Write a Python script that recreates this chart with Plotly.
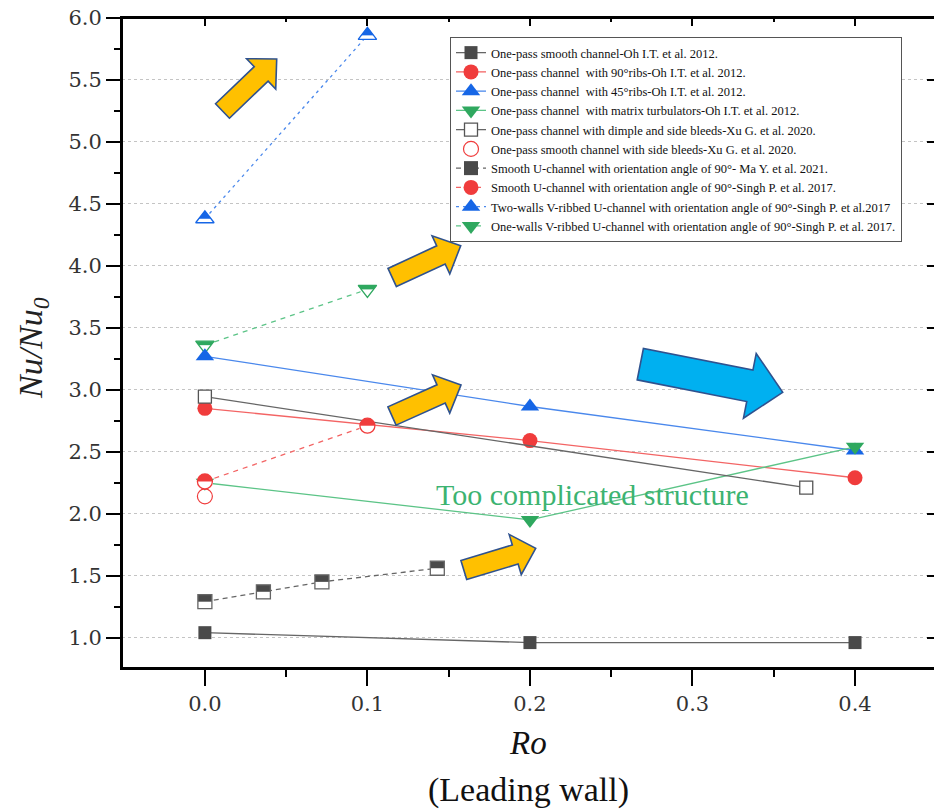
import math
import plotly.graph_objects as go

# ---------------- data ----------------
ro_oh = [0.0, 0.2, 0.4]
nu_oh_smooth = [1.04, 0.96, 0.96]
nu_oh_ribs90 = [2.85, 2.59, 2.29]
nu_oh_ribs45 = [3.27, 2.865, 2.51]
nu_oh_matrix = [2.25, 1.95, 2.54]

ro_xu_dimple = [0.0, 0.37]
nu_xu_dimple = [2.945, 2.21]
ro_xu_smooth = [0.0]
nu_xu_smooth = [2.14]

ro_ma = [0.0, 0.036, 0.072, 0.143]
nu_ma = [1.29, 1.37, 1.45, 1.56]

ro_singh = [0.0, 0.1]
nu_singh_smooth = [2.26, 2.71]
nu_singh_two_walls = [4.38, 5.86]
nu_singh_one_wall = [3.36, 3.81]

series_names = [
    "One-pass smooth channel-Oh I.T. et al. 2012.",
    "One-pass channel  with 90°ribs-Oh I.T. et al. 2012.",
    "One-pass channel  with 45°ribs-Oh I.T. et al. 2012.",
    "One-pass channel  with matrix turbulators-Oh I.T. et al. 2012.",
    "One-pass channel with dimple and side bleeds-Xu G. et al. 2020.",
    "One-pass smooth channel with side bleeds-Xu G. et al. 2020.",
    "Smooth U-channel with orientation angle of 90°- Ma Y. et al. 2021.",
    "Smooth U-channel with orientation angle of 90°-Singh P. et al. 2017.",
    "Two-walls V-ribbed U-channel with orientation angle of 90°-Singh P. et al.2017",
    "One-walls V-ribbed U-channel with orientation angle of 90°-Singh P. et al. 2017.",
]

x_ticks = [0.0, 0.1, 0.2, 0.3, 0.4]
x_tick_labels = ["0.0", "0.1", "0.2", "0.3", "0.4"]
x_minor_ticks = [0.05, 0.15, 0.25, 0.35]
y_ticks = [1.0, 1.5, 2.0, 2.5, 3.0, 3.5, 4.0, 4.5, 5.0, 5.5, 6.0]
y_tick_labels = ["1.0", "1.5", "2.0", "2.5", "3.0", "3.5", "4.0", "4.5", "5.0", "5.5", "6.0"]
y_minor_ticks = [1.25, 1.75, 2.25, 2.75, 3.25, 3.75, 4.25, 4.75, 5.25, 5.75]

x_title = "Ro"
x_subtitle = "(Leading wall)"
y_title = "<i>Nu/Nu<sub>0</sub></i>"
note_text = "Too complicated structure"

# ---------------- style ----------------
W, H = 934, 812
ML, MR, MT, MB = 122, 0, 18, 144
PW, PH = W - ML - MR, H - MT - MB
X_RANGE = [-0.051, 0.4486]
Y_RANGE = [0.755, 6.0]

DARK = "#4a4a4a"
GRAY_LINE = "#666666"
RED = "#f03c3c"
RED_LINE = "#f36464"
BLUE = "#1666e6"
BLUE_LINE = "#4a88ec"
GREEN = "#2fa85f"
GREEN_LINE = "#5cc487"
SERIF = "Liberation Serif"
TICK_SERIF = "DejaVu Serif"

fig = go.Figure()


def add_line(x, y, idx, color, line_color, symbol, size, dash="solid",
             mode="lines+markers", mline=None):
    fig.add_trace(go.Scatter(
        x=x, y=y, name=series_names[idx], legendrank=idx + 1, mode=mode,
        line=dict(color=line_color, width=1.3, dash=dash),
        marker=dict(symbol=symbol, size=size, color=color,
                    line=mline if mline else dict(width=0, color=color)),
        hoverinfo="skip"))


def add_half(x, y, symbol, color, size):
    """white cover over the lower part + outline -> half-filled marker"""
    if symbol == "square":
        cov = dict(size=size / 1.4 * 1.04, width=size / 2, standoff=size / 4)
    elif symbol == "circle":
        cov = dict(size=size * 0.76, width=size / 2, standoff=size / 4)
    elif symbol == "triangle-up":
        cov = dict(size=size * 0.88, width=size / 4, standoff=size / 8)
    else:  # triangle-down
        cov = dict(size=size * 0.62, width=size / 2, standoff=size / 4)
    fig.add_trace(go.Scatter(
        x=x, y=y, mode="markers", showlegend=False, hoverinfo="skip",
        marker=dict(symbol="line-ew", size=cov["size"], angle=0, standoff=cov["standoff"],
                    color="white", line=dict(color="white", width=cov["width"]))))
    fig.add_trace(go.Scatter(
        x=x, y=y, mode="markers", showlegend=False, hoverinfo="skip",
        marker=dict(symbol=symbol + "-open", size=size, color=color, line=dict(width=1.3))))


# drawn first so the other markers sit on top of it
add_line(ro_singh, nu_singh_one_wall, 9, GREEN, GREEN_LINE, "triangle-down", 16, dash="5px,5px")
add_half(ro_singh, nu_singh_one_wall, "triangle-down", GREEN, 16)
# Oh I.T. et al.
add_line(ro_oh, nu_oh_smooth, 0, DARK, GRAY_LINE, "square", 13)
add_line(ro_oh, nu_oh_ribs90, 1, RED, RED_LINE, "circle", 15)
add_line(ro_oh, nu_oh_ribs45, 2, BLUE, BLUE_LINE, "triangle-up", 16)
add_line(ro_oh, nu_oh_matrix, 3, GREEN, GREEN_LINE, "triangle-down", 16)
# Xu G. et al.
add_line(ro_xu_dimple, nu_xu_dimple, 4, "white", GRAY_LINE, "square", 13,
         mline=dict(color="#555555", width=1.3))
add_line(ro_xu_smooth, nu_xu_smooth, 5, RED, RED_LINE, "circle-open", 15,
         mode="markers", mline=dict(color=RED, width=1.2))
# Ma Y. et al.
add_line(ro_ma, nu_ma, 6, DARK, GRAY_LINE, "square", 14, dash="5px,4px")
add_half(ro_ma, nu_ma, "square", "#666666", 14)
# Singh P. et al.
add_line(ro_singh, nu_singh_smooth, 7, RED, RED_LINE, "circle", 15, dash="5px,5px")
add_half(ro_singh, nu_singh_smooth, "circle", RED, 15)
add_line(ro_singh, nu_singh_two_walls, 8, BLUE, BLUE_LINE, "triangle-up", 16, dash="3px,4px")
add_half(ro_singh, nu_singh_two_walls, "triangle-up", BLUE, 16)

# invisible trace carrying the top / right mirror axes
fig.add_trace(go.Scatter(x=[x_ticks[0]], y=[y_ticks[0]], xaxis="x2", yaxis="y2",
                         mode="markers", marker=dict(opacity=0), showlegend=False,
                         hoverinfo="skip"))


# ---------------- block arrows (decorations, pixel geometry) ----------------
def px2paper(px, py):
    return (px - ML) / PW, (H - MB - py) / PH


def arrow_path(tail, tip, sh, hh, hl):
    dx, dy = tip[0] - tail[0], tip[1] - tail[1]
    ln = math.hypot(dx, dy)
    ux, uy = dx / ln, dy / ln
    nx, ny = -uy, ux
    bx, by = tip[0] - ux * hl, tip[1] - uy * hl
    pts = [(tail[0] + nx * sh, tail[1] + ny * sh), (bx + nx * sh, by + ny * sh),
           (bx + nx * hh, by + ny * hh), tip, (bx - nx * hh, by - ny * hh),
           (bx - nx * sh, by - ny * sh), (tail[0] - nx * sh, tail[1] - ny * sh)]
    pp = [px2paper(*p) for p in pts]
    return "M " + " L ".join(f"{a:.5f},{b:.5f}" for a, b in pp) + " Z"


arrows = [
    ((222.5, 111.0), (276.7, 59.0), 10, 21, 21.5, "#FFC000"),
    ((392.2, 277.5), (460.7, 245.7), 10, 21, 21.8, "#FFC000"),
    ((392.0, 416.0), (461.0, 385.0), 10, 21, 21.8, "#FFC000"),
    ((463.8, 570.0), (535.7, 548.3), 10, 21, 21.4, "#FFC000"),
    ((640.3, 364.2), (782.7, 392.3), 16, 33, 33.5, "#00B0F0"),
]
shapes = []
for tail, tip, sh, hh, hl, fill in arrows:
    shapes.append(dict(type="path", xref="paper", yref="paper",
                       path=arrow_path(tail, tip, sh, hh, hl),
                       fillcolor=fill, line=dict(color="#2F528F", width=1.6), layer="above"))
# plot frame (left, bottom, top)
for x0, y0, x1, y1 in [(0, 0, 0, 1), (0, 0, 1, 0), (0, 1, 1, 1)]:
    shapes.append(dict(type="line", xref="paper", yref="paper", x0=x0, y0=y0, x1=x1, y1=y1,
                       line=dict(color="black", width=2), layer="above"))

tickfont = dict(family=TICK_SERIF, size=21, color="#333333")

fig.update_layout(
    width=W, height=H,
    margin=dict(l=ML, r=MR, t=MT, b=MB, pad=0),
    paper_bgcolor="white", plot_bgcolor="white",
    showlegend=True,
    shapes=shapes,
    xaxis=dict(range=X_RANGE, tickvals=x_ticks, ticktext=x_tick_labels,
               ticks="outside", ticklen=16, tickwidth=1.6, tickcolor="black",
               showline=True, linewidth=2, linecolor="black", showgrid=False, zeroline=False,
               tickfont=tickfont,
               minor=dict(tickvals=x_minor_ticks, ticks="outside", ticklen=7, tickwidth=1.6,
                          tickcolor="black", showgrid=False)),
    yaxis=dict(range=Y_RANGE, tickvals=y_ticks, ticktext=y_tick_labels,
               ticks="outside", ticklen=14, tickwidth=1.6, tickcolor="black",
               showline=True, linewidth=2, linecolor="black", showgrid=True,
               gridcolor="#c4c4c4", griddash="dot", gridwidth=1, zeroline=False,
               tickfont=tickfont,
               minor=dict(tickvals=y_minor_ticks, ticks="outside", ticklen=6, tickwidth=1.6,
                          tickcolor="black", showgrid=False)),
    xaxis2=dict(range=X_RANGE, overlaying="x", side="top", anchor="y2", tickvals=x_ticks,
                ticks="inside", ticklen=8, tickwidth=1.6, tickcolor="black",
                showticklabels=False, showline=True, linewidth=2, linecolor="black",
                showgrid=False, zeroline=False,
                minor=dict(tickvals=x_minor_ticks, ticks="inside", ticklen=4, tickwidth=1.6,
                           tickcolor="black")),
    yaxis2=dict(range=Y_RANGE, overlaying="y", side="right", anchor="x2", tickvals=y_ticks,
                ticks="inside", ticklen=7, tickwidth=1.6, tickcolor="black",
                showticklabels=False, showline=False, showgrid=False, zeroline=False),
    legend=dict(x=(450 - ML) / PW, y=(H - MB - 37) / PH, xanchor="left", yanchor="top",
                bgcolor="white", bordercolor="#555555", borderwidth=1,
                font=dict(family=SERIF, size=12.5, color="#111111"),
                tracegroupgap=0, itemwidth=30, traceorder="normal"),
    annotations=[
        dict(text=y_title, xref="paper", yref="paper", x=(33 - ML) / PW, y=(H - MB - 348) / PH,
             textangle=-90, showarrow=False, xanchor="center", yanchor="middle",
             font=dict(family=SERIF, size=34, color="#222222")),
        dict(text=f"<i>{x_title}</i>", xref="paper", yref="paper", x=0.5,
             y=(H - MB - 743) / PH, showarrow=False, xanchor="center", yanchor="middle",
             font=dict(family=SERIF, size=33, color="#111111")),
        dict(text=x_subtitle, xref="paper", yref="paper", x=0.5,
             y=(H - MB - 790) / PH, showarrow=False, xanchor="center", yanchor="middle",
             font=dict(family=SERIF, size=34, color="#111111")),
        dict(text=note_text, xref="paper", yref="paper", x=(592 - ML) / PW,
             y=(H - MB - 494) / PH, showarrow=False, xanchor="center", yanchor="middle",
             font=dict(family=SERIF, size=30, color="#3cb371")),
    ],
)

fig.write_html("out.html")
